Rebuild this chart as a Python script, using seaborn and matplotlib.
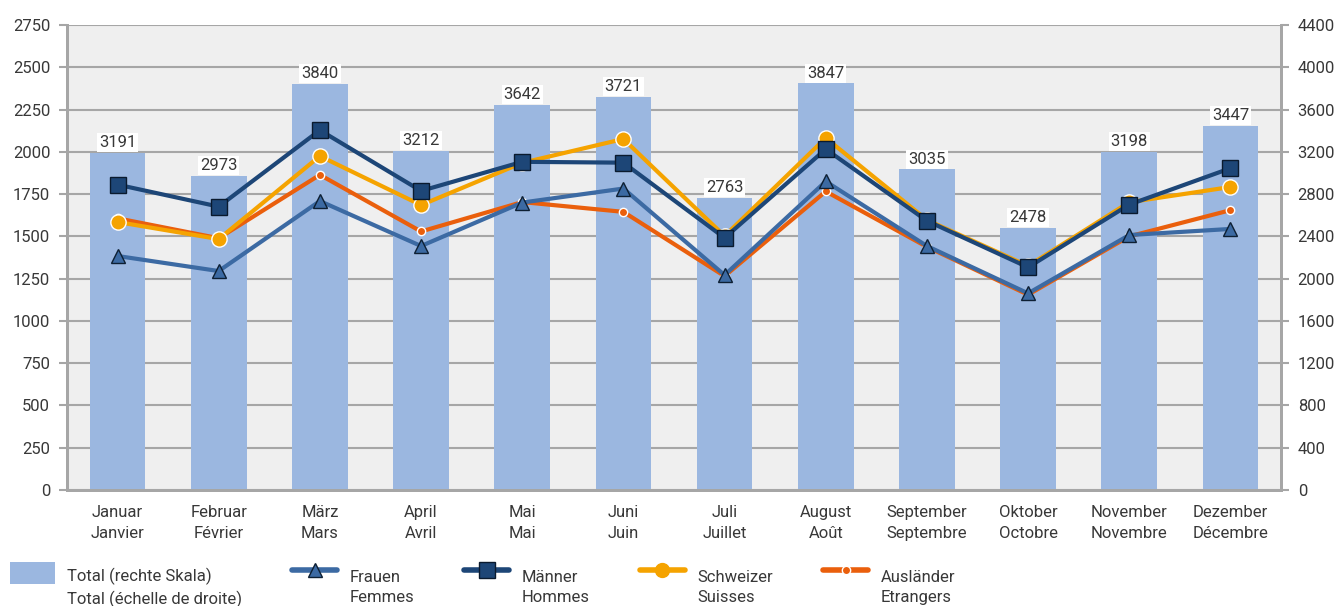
import numpy as np
import matplotlib.pyplot as plt
import seaborn as sns
from matplotlib.lines import Line2D
from matplotlib.patches import Patch
from matplotlib.legend_handler import HandlerLine2D, HandlerPatch

months = ["Januar\nJanvier", "Februar\nFévrier", "März\nMars", "April\nAvril",
          "Mai\nMai", "Juni\nJuin", "Juli\nJuillet", "August\nAoût",
          "September\nSeptembre", "Oktober\nOctobre", "November\nNovembre",
          "Dezember\nDécembre"]
total = [3191, 2973, 3840, 3212, 3642, 3721, 2763, 3847, 3035, 2478, 3198, 3447]
frauen = [1384, 1295, 1709, 1443, 1700, 1783, 1271, 1825, 1443, 1163, 1508, 1544]
maenner = [1806, 1676, 2128, 1769, 1941, 1936, 1491, 2016, 1592, 1317, 1688, 1903]
schweizer = [1585, 1484, 1975, 1685, 1935, 2076, 1502, 2082, 1597, 1325, 1702, 1792]
auslaender = [1607, 1489, 1864, 1529, 1703, 1645, 1265, 1766, 1438, 1155, 1500, 1655]

labels = ["Total (rechte Skala)\nTotal (échelle de droite)", "Frauen\nFemmes",
          "Männer\nHommes", "Schweizer\nSuisses", "Ausländer\nEtrangers"]

BAR = "#9bb7e0"
FRAUEN = "#3c6aa3"
MAENNER = "#1d4677"
SCHWEIZER = "#f5a300"
AUSL = "#ea5f0c"
GRID = "#a6a6a6"
TXT = "#383838"

sns.set_style("white")
plt.rcParams['font.family'] = ['Roboto', 'DejaVu Sans']
plt.rcParams['font.size'] = 12

fig = plt.figure(figsize=(13.39, 6.06), dpi=100)
ax = fig.add_axes([0.050, 0.1914, 0.9067, 0.7673])
ax.set_facecolor("#efefef")

# bars on the right scale
x = np.arange(len(months))
sns.barplot(x=x, y=total, ax=ax, color=BAR, saturation=1, width=0.55,
            linewidth=0, zorder=2)
ax.set_xlim(-0.5, 11.5)
ax.set_ylim(0, 4400)
ax.set_yticks(np.arange(0, 4401, 400))
ax.set_axisbelow(True)
ax.grid(axis="y", color=GRID, lw=1.5)
ax.grid(axis="x", visible=False)
ax.bar_label(ax.containers[0], labels=[str(v) for v in total], padding=2,
             color=TXT, fontsize=12,
             bbox=dict(facecolor="white", edgecolor="none", pad=1.5))

# lines on the left scale
ax2 = ax.twinx()
ax.yaxis.tick_right()
ax2.yaxis.tick_left()
ax2.set_ylim(0, 2750)
ax2.set_yticks(np.arange(0, 2751, 250))

sns.lineplot(x=x, y=auslaender, ax=ax2, color=AUSL, lw=3, marker="o", ms=6,
             mfc=AUSL, mec="white", mew=1, zorder=3)
sns.lineplot(x=x, y=frauen, ax=ax2, color=FRAUEN, lw=3, marker="^", ms=10,
             mfc=FRAUEN, mec="#0d1f33", mew=1, zorder=4)
sns.lineplot(x=x, y=schweizer, ax=ax2, color=SCHWEIZER, lw=3, marker="o", ms=11,
             mfc=SCHWEIZER, mec="white", mew=1, zorder=5)
sns.lineplot(x=x, y=maenner, ax=ax2, color=MAENNER, lw=3, marker="s", ms=11,
             mfc=MAENNER, mec="#0a1a2e", mew=1, zorder=6)

for a in (ax, ax2):
    for side in ("left", "right", "bottom", "top"):
        a.spines[side].set_visible(side != "top")
        a.spines[side].set_color(GRID)
        a.spines[side].set_linewidth(2)
    a.tick_params(axis="y", colors=GRID, labelcolor=TXT, labelsize=12,
                  length=6, width=1.5, pad=6)
    a.set_xlabel("")
    a.set_ylabel("")

ax.set_xticks(x)
ax.set_xticklabels(months, color=TXT, fontsize=12, linespacing=1.45)
ax.tick_params(axis="x", length=0, pad=11)
ax2.tick_params(axis="x", length=0, labelbottom=False)


class UpLine(HandlerLine2D):
    def create_artists(self, legend, orig, xd, yd, w, h, fs, trans):
        return super().create_artists(legend, orig, xd, yd - 22, w, h, fs, trans)


class UpPatch(HandlerPatch):
    def create_artists(self, legend, orig, xd, yd, w, h, fs, trans):
        return super().create_artists(legend, orig, xd, yd - 11, w, h, fs, trans)


handles = [
    Patch(facecolor=BAR, edgecolor="none"),
    Line2D([], [], color=FRAUEN, lw=4, marker="^", ms=10, mfc=FRAUEN, mec="#0d1f33"),
    Line2D([], [], color=MAENNER, lw=4, marker="s", ms=11, mfc=MAENNER, mec="#0a1a2e"),
    Line2D([], [], color=SCHWEIZER, lw=4, marker="o", ms=10, mfc=SCHWEIZER, mec=SCHWEIZER),
    Line2D([], [], color=AUSL, lw=4, marker="o", ms=6, mfc=AUSL, mec="white"),
]
hmap = {handles[0]: UpPatch()}
for h in handles[1:]:
    hmap[h] = UpLine(numpoints=1)
leg = fig.legend(handles, labels, handler_map=hmap, ncol=5, loc="lower left",
                 bbox_to_anchor=(-0.004, -0.028), frameon=False, fontsize=12,
                 handlelength=2.7, handleheight=1.6, handletextpad=0.75,
                 columnspacing=3.0, labelspacing=0)
for t in leg.get_texts():
    t.set_color(TXT)
    t.set_linespacing(1.45)

fig.savefig("out.png", dpi=100)
